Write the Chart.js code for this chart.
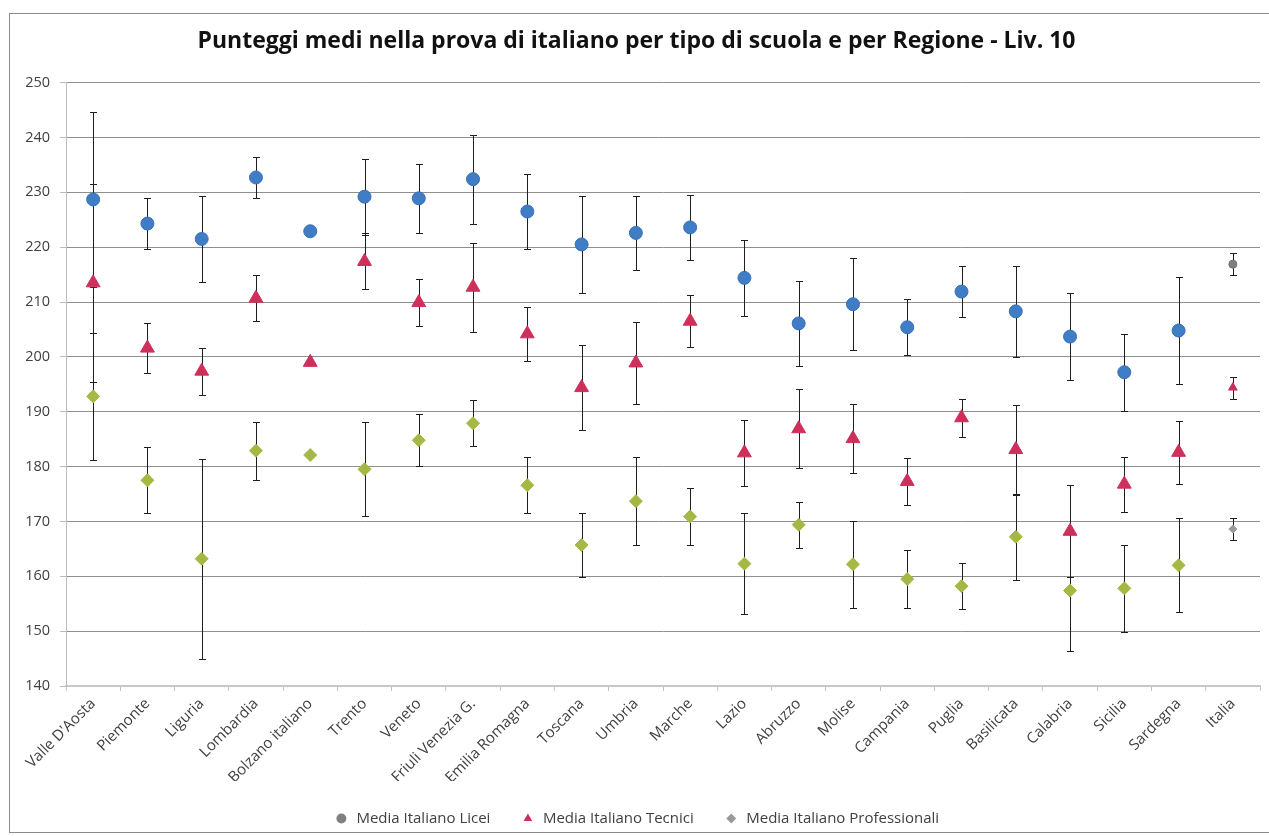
<!DOCTYPE html>
<html>
<head>
<meta charset="utf-8">
<script src="https://cdn.jsdelivr.net/npm/chart.js@4.4.1/dist/chart.umd.min.js"></script>
<style>
  html, body { margin: 0; padding: 0; background: #ffffff; }
  #wrap { position: relative; width: 1269px; height: 836px; overflow: hidden; }
  #frame { position: absolute; left: 9px; top: 13px; width: 1280px; height: 820px; border: 1px solid #8a8a8a; box-sizing: border-box; }
  #c { position: absolute; left: 0; top: 0; }
</style>
</head>
<body>
<div id="wrap">
  <div id="frame"></div>
  <canvas id="c" width="1269" height="836"></canvas>
</div>
<script>
// ---- Data ----
const categories = ["Valle D'Aosta", "Piemonte", "Liguria", "Lombardia", "Bolzano italiano", "Trento", "Veneto",
  "Friuli Venezia G.", "Emilia Romagna", "Toscana", "Umbria", "Marche", "Lazio", "Abruzzo", "Molise",
  "Campania", "Puglia", "Basilicata", "Calabria", "Sicilia", "Sardegna", "Italia"];

const liceiMean = [228.7, 224.3, 221.5, 232.7, 222.9, 229.2, 228.9, 232.4, 226.5, 220.5, 222.6, 223.6,
  214.4, 206.1, 209.6, 205.4, 211.9, 208.3, 203.7, 197.2, 204.8, 216.9];
const liceiErr = [16.0, 4.7, 7.9, 3.8, null, 6.9, 6.3, 8.1, 6.8, 8.9, 6.7, 5.9,
  6.9, 7.8, 8.4, 5.1, 4.7, 8.3, 8.0, 7.0, 9.8, 2.0];

const tecniciMean = [213.5, 201.6, 197.4, 210.7, 199.0, 217.4, 209.9, 212.7, 204.2, 194.4, 198.9, 206.5,
  182.5, 186.9, 185.1, 177.3, 188.9, 183.1, 168.2, 176.8, 182.6, 194.4];
const tecniciErr = [18.1, 4.6, 4.3, 4.2, null, 5.1, 4.3, 8.1, 4.9, 7.8, 7.5, 4.7,
  6.0, 7.2, 6.3, 4.3, 3.5, 8.2, 8.4, 5.0, 5.7, 2.0];

const profMean = [192.8, 177.5, 163.2, 182.9, 182.1, 179.5, 184.8, 187.9, 176.6, 165.7, 173.7, 170.9,
  162.3, 169.4, 162.2, 159.5, 158.2, 167.2, 157.4, 157.8, 162.0, 168.6];
const profErr = [11.6, 6.0, 18.2, 5.3, null, 8.6, 4.7, 4.2, 5.1, 5.8, 8.0, 5.2,
  9.2, 4.2, 7.9, 5.3, 4.2, 7.8, 11.0, 7.9, 8.6, 2.0];

const seriesNames = ["Media Italiano Licei", "Media Italiano Tecnici", "Media Italiano Professionali"];
const yTicks = { min: 140, max: 250, step: 10 };
const chartTitle = "Punteggi medi nella prova di italiano per tipo di scuola e per Regione - Liv. 10";

// ---- Styles ----
const FONT = "'Open Sans', 'Liberation Sans', sans-serif";
const lastIdx = categories.length - 1;
function perPoint(normal, last) { return categories.map((_, i) => i === lastIdx ? last : normal); }

const legendFill = ['#808080', '#c8305a', '#9a9a9a'];
const legendStyle = ['circle', 'triangle', 'rectRot'];

const errorBarPlugin = {
  id: 'errorBars',
  beforeDatasetsDraw(chart) {
    const ctx = chart.ctx;
    const yScale = chart.scales.y;
    ctx.save();
    ctx.strokeStyle = '#1e1e1e';
    ctx.lineWidth = 1;
    chart.data.datasets.forEach((ds, di) => {
      const meta = chart.getDatasetMeta(di);
      meta.data.forEach((pt, i) => {
        const e = ds.errors[i];
        if (e == null) return;
        const v = ds.data[i];
        const x = Math.round(pt.x) + 0.5;
        const yT = Math.round(yScale.getPixelForValue(v + e)) + 0.5;
        const yB = Math.round(yScale.getPixelForValue(v - e)) + 0.5;
        ctx.beginPath();
        ctx.moveTo(x, yT); ctx.lineTo(x, yB);
        ctx.moveTo(x - 3.5, yT); ctx.lineTo(x + 3.5, yT);
        ctx.moveTo(x - 3.5, yB); ctx.lineTo(x + 3.5, yB);
        ctx.stroke();
      });
    });
    ctx.restore();
  }
};

new Chart(document.getElementById('c'), {
  type: 'line',
  data: {
    labels: categories,
    datasets: [
      {
        label: seriesNames[0], data: liceiMean, errors: liceiErr, showLine: false,
        pointStyle: 'circle',
        pointRadius: perPoint(6.5, 4), pointHoverRadius: perPoint(6.5, 4),
        pointBackgroundColor: perPoint('#3f7dc7', '#7f7f7f'),
        pointBorderColor: perPoint('#3a70b3', '#6f6f6f'), pointBorderWidth: 1,
        borderColor: '#3f7dc7', backgroundColor: '#3f7dc7'
      },
      {
        label: seriesNames[1], data: tecniciMean, errors: tecniciErr, showLine: false,
        pointStyle: 'triangle',
        pointRadius: perPoint(8, 5), pointHoverRadius: perPoint(8, 5),
        pointBackgroundColor: perPoint('#cf2f5b', '#c8305a'),
        pointBorderColor: perPoint('#cf2f5b', '#c8305a'), pointBorderWidth: 1,
        borderColor: '#cf2f5b', backgroundColor: '#cf2f5b'
      },
      {
        label: seriesNames[2], data: profMean, errors: profErr, showLine: false,
        pointStyle: 'rectRot',
        pointRadius: perPoint(6.5, 4), pointHoverRadius: perPoint(6.5, 4),
        pointBackgroundColor: perPoint('#a6b844', '#9a9a9a'),
        pointBorderColor: perPoint('#a6b844', '#9a9a9a'), pointBorderWidth: 1,
        borderColor: '#a6b844', backgroundColor: '#a6b844'
      }
    ]
  },
  options: {
    responsive: false,
    animation: false,
    events: [],
    layout: { padding: { left: 10, right: 6, top: 0, bottom: 0 } },
    plugins: {
      title: {
        display: true, text: chartTitle, color: '#111111',
        font: { family: FONT, size: 23, weight: 'bold' },
        padding: { top: 28, bottom: 27 }
      },
      legend: {
        display: true, position: 'bottom',
        labels: {
          usePointStyle: true, boxHeight: 7, padding: 30, color: '#404040',
          font: { family: FONT, size: 15 },
          generateLabels(chart) {
            const items = Chart.defaults.plugins.legend.labels.generateLabels(chart);
            items.forEach((it, i) => {
              it.fillStyle = legendFill[i]; it.strokeStyle = legendFill[i];
              it.pointStyle = legendStyle[i]; it.lineWidth = 0;
            });
            return items;
          }
        }
      },
      tooltip: { enabled: false }
    },
    scales: {
      x: {
        type: 'category', offset: true,
        grid: { offset: true, drawOnChartArea: false, drawTicks: true, tickLength: 5, color: '#c4c4c4' },
        border: { display: true, color: '#c8c8c8', width: 2 },
        ticks: { autoSkip: false, minRotation: 45, maxRotation: 45, color: '#404040',
                 font: { family: FONT, size: 15 }, padding: 4 },
        afterFit(s) { s.height = 95; }
      },
      y: {
        min: yTicks.min, max: yTicks.max,
        grid: { color: '#8f8f8f', drawTicks: true, tickLength: 6, tickColor: '#bdbdbd' },
        border: { display: true, color: '#bdbdbd' },
        ticks: { stepSize: yTicks.step, color: '#404040', font: { family: FONT, size: 14.5 }, padding: 10 },
        afterFit(s) { s.width = 56; }
      }
    }
  },
  plugins: [errorBarPlugin]
});
</script>
</body>
</html>
